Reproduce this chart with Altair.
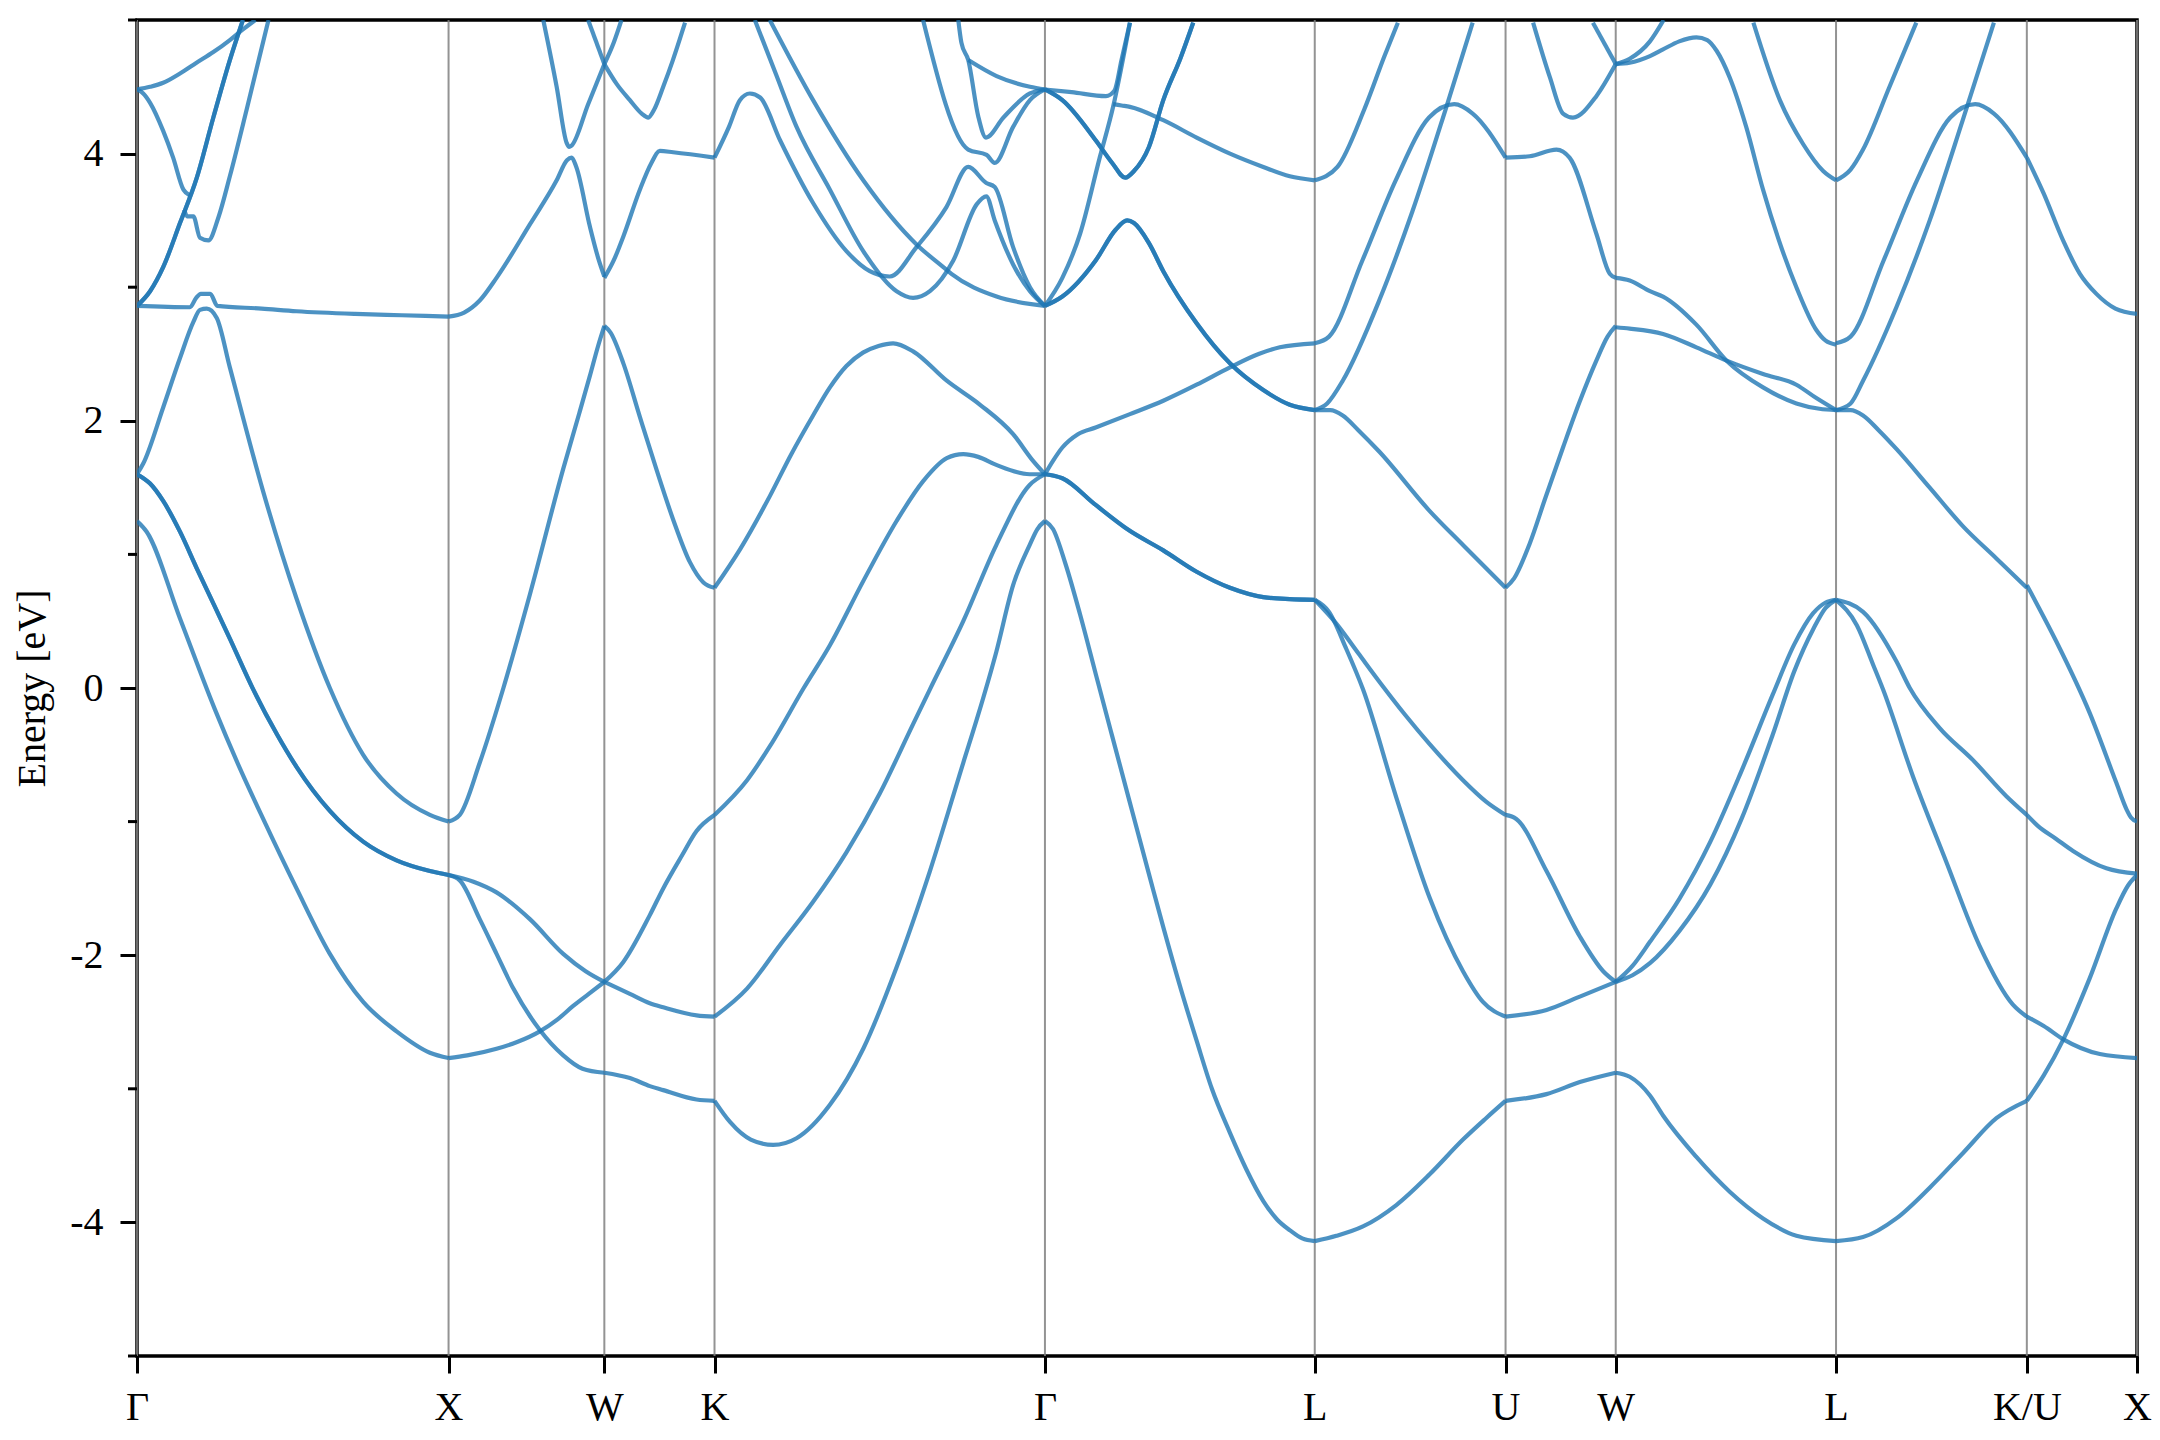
import altair as alt
import pandas as pd

# ---- high-symmetry points along the k-path ----
kpath_pos = [0.0, 1.0, 1.5, 1.8536, 2.9142, 3.7802, 4.3926, 4.7462, 5.4533, 6.0657, 6.4193]
kpath_lab = ["Γ", "X", "W", "K", "Γ", "L", "U", "W", "L", "K/U", "X"]

y_major = [-4, -2, 0, 2, 4]
y_minor = [-5, -3, -1, 1, 3, 5]

# ---- band curves (k, energy in eV) ----
# Γ -> X
s1_a = [(0, 1.25), (0.031, 1.17), (0.138, 0.52), (0.25, -0.16), (0.33, -0.6), (0.405, -0.98), (0.512, -1.50),
        (0.619, -1.99), (0.726, -2.35), (0.833, -2.57), (0.94, -2.73), (1.0, -2.77)]
s1_b = [(0, 1.6), (0.042, 1.53), (0.084, 1.4), (0.138, 1.17), (0.191, 0.9), (0.298, 0.37), (0.373, -0.01),
        (0.45, -0.35), (0.512, -0.59), (0.619, -0.92), (0.726, -1.15), (0.833, -1.29), (0.94, -1.37), (1.0, -1.40)]
s1_c = [(0, 1.6), (0.02, 1.68), (0.084, 2.1), (0.138, 2.47), (0.181, 2.74), (0.202, 2.83), (0.224, 2.84),
        (0.256, 2.77), (0.298, 2.4), (0.405, 1.47), (0.512, 0.67), (0.619, 0.0), (0.726, -0.5), (0.833, -0.79),
        (0.94, -0.95), (1.0, -1.0)]
s1_d = [(0, 2.86), (0.17, 2.85), (0.19, 2.92), (0.205, 2.95), (0.235, 2.95), (0.258, 2.86), (0.4, 2.84),
        (0.512, 2.82), (0.7, 2.8), (0.85, 2.79), (1.0, 2.78)]
s1_e = [(0, 2.86), (0.042, 2.97), (0.084, 3.15), (0.138, 3.48), (0.192, 3.82), (0.245, 4.27), (0.298, 4.7),
        (0.34, 5.0)]
s1_f = [(0, 4.48), (0.02, 4.45), (0.042, 4.38), (0.084, 4.17), (0.116, 3.97), (0.149, 3.73), (0.168, 3.69)]
s1_g = [(0.152, 3.58), (0.161, 3.53), (0.181, 3.53), (0.202, 3.37), (0.229, 3.35), (0.261, 3.52), (0.298, 3.83),
        (0.352, 4.33), (0.422, 5.0)]
s1_h = [(0, 4.48), (0.042, 4.5), (0.084, 4.53), (0.138, 4.6), (0.191, 4.68), (0.245, 4.76), (0.298, 4.85),
        (0.34, 4.93), (0.38, 5.0)]

# X -> W
s2_a = [(1.0, -2.77), (1.06, -2.75), (1.154, -2.70), (1.22, -2.65), (1.293, -2.57), (1.35, -2.48), (1.4, -2.38),
        (1.45, -2.29), (1.5, -2.2)]
s2_b = [(1.0, -1.40), (1.036, -1.44), (1.1, -1.73), (1.154, -1.99), (1.208, -2.25), (1.293, -2.56), (1.368, -2.75),
        (1.43, -2.85), (1.5, -2.88)]
s2_c = [(1.0, -1.40), (1.08, -1.45), (1.154, -1.53), (1.261, -1.73), (1.368, -1.99), (1.44, -2.12), (1.5, -2.2)]
s2_d = [(1.0, -1.0), (1.036, -0.95), (1.1, -0.56), (1.176, 0.0), (1.261, 0.7), (1.368, 1.64), (1.42, 2.06),
        (1.454, 2.34), (1.48, 2.56), (1.5, 2.71)]
s2_e = [(1.0, 2.78), (1.05, 2.81), (1.1, 2.9), (1.154, 3.07), (1.261, 3.47), (1.347, 3.8), (1.38, 3.95),
        (1.395, 3.97), (1.41, 3.9), (1.454, 3.45), (1.48, 3.22), (1.5, 3.08)]
s2_f = [(1.304, 5.0), (1.347, 4.5), (1.379, 4.08), (1.387, 4.05), (1.395, 4.06), (1.448, 4.37), (1.5, 4.67)]
s2_g = [(1.448, 5.0), (1.5, 4.67)]

# W -> K
s3_a = [(1.5, -2.88), (1.582, -2.92), (1.646, -2.98), (1.689, -3.01), (1.796, -3.08), (1.8536, -3.09)]
s3_b = [(1.5, -2.2), (1.582, -2.29), (1.646, -2.36), (1.689, -2.39), (1.796, -2.45), (1.8536, -2.46)]
s3_c = [(1.5, -2.2), (1.561, -2.05), (1.646, -1.7), (1.689, -1.5), (1.75, -1.25), (1.796, -1.07), (1.8536, -0.95)]
s3_d = [(1.5, 2.71), (1.52, 2.66), (1.561, 2.43), (1.614, 2.03), (1.668, 1.63), (1.721, 1.26), (1.775, 0.94),
        (1.818, 0.79), (1.8536, 0.75)]
s3_e = [(1.5, 3.07), (1.53, 3.2), (1.561, 3.38), (1.614, 3.73), (1.651, 3.93), (1.678, 4.02), (1.721, 4.01),
        (1.8536, 3.97)]
s3_f = [(1.5, 4.67), (1.54, 4.52), (1.582, 4.40), (1.62, 4.3), (1.641, 4.27), (1.66, 4.33), (1.689, 4.5),
        (1.72, 4.7), (1.759, 4.98)]
s3_g = [(1.5, 4.67), (1.53, 4.83), (1.555, 5.0)]

# K -> Γ
s4_a = [(1.8536, -3.09), (1.904, -3.25), (1.97, -3.38), (2.042, -3.42), (2.117, -3.37), (2.224, -3.12),
        (2.331, -2.7), (2.438, -2.09), (2.545, -1.37), (2.652, -0.56), (2.70, -0.2), (2.758, 0.27), (2.812, 0.77),
        (2.865, 1.07), (2.89, 1.19), (2.9142, 1.25)]
s4_b = [(1.8536, -2.46), (1.958, -2.25), (2.065, -1.92), (2.17, -1.6), (2.277, -1.23), (2.384, -0.79),
        (2.491, -0.27), (2.545, -0.01), (2.652, 0.5), (2.758, 1.07), (2.865, 1.52), (2.9142, 1.6)]
s4_c = [(1.8536, -0.95), (1.958, -0.69), (2.033, -0.43), (2.14, 0.0), (2.224, 0.32), (2.331, 0.8), (2.438, 1.25),
        (2.524, 1.55), (2.599, 1.72), (2.652, 1.75), (2.70, 1.73), (2.758, 1.67), (2.865, 1.6), (2.9142, 1.6)]
s4_d = [(1.8536, 0.75), (1.936, 1.04), (2.032, 1.44), (2.1, 1.75), (2.17, 2.04), (2.224, 2.25), (2.277, 2.41),
        (2.33, 2.51), (2.38, 2.56), (2.427, 2.58), (2.491, 2.52), (2.599, 2.3), (2.706, 2.12), (2.812, 1.9),
        (2.876, 1.7), (2.9142, 1.6)]
s4_e = [(1.8536, 3.97), (1.90, 4.2), (1.935, 4.4), (1.967, 4.45), (2.0, 4.42), (2.064, 4.1), (2.17, 3.63),
        (2.277, 3.27), (2.352, 3.12), (2.416, 3.08), (2.502, 3.3), (2.598, 3.6), (2.668, 3.9), (2.726, 3.78),
        (2.753, 3.75), (2.812, 3.3), (2.866, 3.0), (2.9142, 2.86)]
s4_f = [(1.983, 5.0), (2.05, 4.6), (2.117, 4.2), (2.224, 3.73), (2.331, 3.27), (2.438, 2.97), (2.491, 2.92),
        (2.545, 2.97), (2.62, 3.2), (2.695, 3.62), (2.726, 3.68), (2.753, 3.5), (2.812, 3.17), (2.866, 2.97),
        (2.9142, 2.86)]
s4_g = [(2.031, 5.0), (2.17, 4.4), (2.331, 3.8), (2.502, 3.32), (2.588, 3.15), (2.614, 3.1), (2.759, 2.93),
        (2.9142, 2.86)]
s4_h = [(2.523, 5.0), (2.668, 4.03), (2.727, 3.99), (2.753, 3.93), (2.812, 4.2), (2.866, 4.4), (2.9142, 4.48)]
s4_i = [(2.636, 5.0), (2.646, 4.83), (2.668, 4.7), (2.70, 4.28), (2.725, 4.12), (2.781, 4.27), (2.866, 4.45),
        (2.9142, 4.48)]
s4_j = [(2.668, 4.7), (2.759, 4.58), (2.866, 4.5), (2.9142, 4.48)]

# Γ -> L
s5_a = [(2.9142, 1.25), (2.94, 1.19), (2.98, 0.93), (3.027, 0.55), (3.08, 0.08), (3.13, -0.36), (3.187, -0.86),
        (3.25, -1.41), (3.294, -1.79), (3.35, -2.25), (3.401, -2.64), (3.45, -3.0), (3.508, -3.33), (3.56, -3.6),
        (3.615, -3.84), (3.66, -3.98), (3.701, -4.06), (3.74, -4.12), (3.7802, -4.14)]
s5_b = [(2.9142, 1.6), (2.97, 1.57), (3.077, 1.37), (3.184, 1.18), (3.294, 1.03), (3.401, 0.87), (3.508, 0.75),
        (3.615, 0.68), (3.7, 0.665), (3.7802, 0.66)]
s5_c = [(2.9142, 1.6), (2.94, 1.7), (2.97, 1.8), (3.02, 1.9), (3.077, 1.95), (3.187, 2.05), (3.294, 2.15),
        (3.401, 2.27), (3.508, 2.4), (3.6, 2.5), (3.668, 2.55), (3.7802, 2.58)]
s5_d = [(2.9142, 2.86), (2.97, 2.93), (3.077, 3.2), (3.141, 3.43), (3.178, 3.5), (3.2, 3.48), (3.248, 3.33),
        (3.294, 3.12), (3.401, 2.73), (3.508, 2.43), (3.615, 2.23), (3.7, 2.12), (3.7802, 2.08)]
s5_e = [(2.9142, 2.86), (2.97, 3.07), (3.027, 3.4), (3.09, 3.97), (3.133, 4.35), (3.187, 4.98)]
s5_f = [(2.9142, 4.48), (2.97, 4.4), (3.077, 4.1), (3.13, 3.93), (3.172, 3.82), (3.2, 3.87), (3.248, 4.05),
        (3.294, 4.4), (3.35, 4.72), (3.39, 4.98)]
s5_g = [(2.9142, 4.48), (3.0, 4.46), (3.11, 4.43), (3.137, 4.47), (3.16, 4.7), (3.187, 4.98)]
s5_h = [(3.133, 4.37), (3.16, 4.36), (3.187, 4.35), (3.294, 4.25), (3.401, 4.12), (3.508, 4.0), (3.615, 3.9),
        (3.7, 3.83), (3.7802, 3.8)]

# L -> U
s6_a = [(3.7802, -4.14), (3.85, -4.1), (3.935, -4.03), (4.042, -3.87), (4.149, -3.64), (4.256, -3.38),
        (4.33, -3.22), (4.3926, -3.09)]
s6_b = [(3.7802, 0.66), (3.826, 0.57), (3.88, 0.3), (3.935, -0.01), (4.042, -0.82), (4.149, -1.57),
        (4.256, -2.12), (4.32, -2.35), (4.3926, -2.46)]
s6_c = [(3.7802, 0.66), (3.85, 0.48), (3.92, 0.26), (3.99, 0.04), (4.07, -0.2), (4.149, -0.42), (4.256, -0.69),
        (4.33, -0.85), (4.3926, -0.95)]
s6_d = [(3.7802, 2.08), (3.83, 2.08), (3.87, 2.04), (3.92, 1.93), (3.987, 1.77), (4.147, 1.33), (4.256, 1.07),
        (4.3926, 0.75)]
s6_e = [(3.7802, 2.08), (3.82, 2.13), (3.87, 2.3), (3.987, 2.9), (4.094, 3.57), (4.2, 4.33), (4.287, 4.98)]
s6_f = [(3.7802, 2.58), (3.826, 2.63), (3.933, 3.2), (4.04, 3.8), (4.147, 4.27), (4.228, 4.37), (4.287, 4.3),
        (4.3926, 3.97)]
s6_g = [(3.7802, 3.8), (3.853, 3.9), (3.939, 4.33), (4.004, 4.73), (4.047, 4.98)]

# U -> W
s7_a = [(4.3926, -3.09), (4.524, -3.04), (4.631, -2.95), (4.7462, -2.88)]
s7_b = [(4.3926, -2.46), (4.524, -2.41), (4.631, -2.31), (4.7462, -2.2)]
s7_c = [(4.3926, -0.95), (4.427, -0.98), (4.524, -1.37), (4.631, -1.86), (4.706, -2.12), (4.7462, -2.2)]
s7_d = [(4.3926, 0.75), (4.42, 0.82), (4.47, 1.08), (4.52, 1.42), (4.577, 1.8), (4.63, 2.14), (4.684, 2.45),
        (4.72, 2.63), (4.7462, 2.71)]
s7_e = [(4.3926, 3.97), (4.47, 3.98), (4.556, 4.03), (4.598, 3.97), (4.684, 3.4), (4.727, 3.1), (4.7462, 3.07)]
s7_f = [(4.481, 4.98), (4.535, 4.57), (4.577, 4.3), (4.609, 4.27), (4.684, 4.43), (4.7462, 4.67)]
s7_g = [(4.673, 4.98), (4.7462, 4.67)]

# W -> L
s8_a = [(4.7462, -2.88), (4.791, -2.91), (4.856, -3.05), (4.898, -3.2), (5.005, -3.51), (5.112, -3.77),
        (5.219, -3.97), (5.326, -4.1), (5.4533, -4.14)]
s8_b = [(4.7462, -2.2), (4.80, -2.08), (4.856, -1.9), (4.95, -1.58), (5.05, -1.15), (5.15, -0.62), (5.25, -0.05),
        (5.32, 0.33), (5.38, 0.56), (5.42, 0.64), (5.4533, 0.66)]
s8_c = [(4.7462, -2.2), (4.80, -2.15), (4.856, -2.06), (4.95, -1.82), (5.05, -1.47), (5.15, -0.98), (5.25, -0.35),
        (5.32, 0.13), (5.38, 0.44), (5.42, 0.6), (5.4533, 0.66)]
s8_d = [(4.7462, 2.7), (4.791, 2.69), (4.898, 2.65), (5.005, 2.55), (5.102, 2.45), (5.219, 2.35), (5.326, 2.27),
        (5.39, 2.17), (5.4533, 2.08)]
s8_e = [(4.7462, 3.07), (4.791, 3.05), (4.856, 2.97), (4.898, 2.93), (5.005, 2.72), (5.102, 2.45), (5.219, 2.25),
        (5.326, 2.13), (5.40, 2.09), (5.4533, 2.08)]
s8_f = [(4.7462, 4.67), (4.791, 4.68), (4.856, 4.73), (4.898, 4.78), (4.95, 4.84), (5.005, 4.87), (5.04, 4.85),
        (5.07, 4.77), (5.112, 4.57), (5.165, 4.2), (5.219, 3.73), (5.27, 3.35), (5.326, 3.0), (5.39, 2.68),
        (5.42, 2.6), (5.4533, 2.57)]
s8_g = [(4.7462, 4.67), (4.791, 4.71), (4.856, 4.84), (4.9, 5.0)]
s8_h = [(5.188, 4.98), (5.273, 4.4), (5.348, 4.07), (5.412, 3.87), (5.4533, 3.8)]

# L -> K/U
s9_a = [(5.4533, -4.14), (5.54, -4.11), (5.647, -3.97), (5.754, -3.74), (5.861, -3.48), (5.968, -3.22),
        (6.0657, -3.09)]
s9_b = [(5.4533, 0.66), (5.52, 0.47), (5.573, 0.17), (5.604, -0.01), (5.7, -0.66), (5.807, -1.3),
        (5.914, -1.93), (6.021, -2.37), (6.0657, -2.46)]
s9_c = [(5.4533, 0.66), (5.54, 0.57), (5.647, 0.2), (5.69, 0.0), (5.786, -0.3), (5.893, -0.54), (6.0, -0.81),
        (6.0657, -0.95)]
s9_d = [(5.4533, 2.08), (5.50, 2.08), (5.54, 2.04), (5.59, 1.93), (5.647, 1.79), (5.754, 1.5), (5.861, 1.21),
        (5.968, 0.97), (6.0657, 0.75)]
s9_e = [(5.4533, 2.08), (5.50, 2.13), (5.54, 2.3), (5.647, 2.85), (5.754, 3.5), (5.86, 4.25), (5.96, 4.98)]
s9_f = [(5.4533, 2.58), (5.50, 2.63), (5.606, 3.2), (5.713, 3.8), (5.82, 4.27), (5.90, 4.37), (5.96, 4.3),
        (6.0657, 3.97)]
s9_g = [(5.4533, 3.8), (5.50, 3.88), (5.54, 4.03), (5.625, 4.5), (5.711, 4.98)]

# K/U -> X
s10_a = [(6.0657, 0.77), (6.10, 0.62), (6.16, 0.35), (6.268, -0.19), (6.353, -0.71), (6.386, -0.91),
         (6.40, -0.97), (6.4193, -1.0)]
s10_b = [(6.0657, -0.95), (6.10, -1.03), (6.16, -1.13), (6.214, -1.22), (6.321, -1.35), (6.4193, -1.39)]
s10_c = [(6.0657, -2.46), (6.12, -2.53), (6.183, -2.63), (6.3, -2.74), (6.4193, -2.77)]
s10_d = [(6.0657, -3.09), (6.12, -2.9), (6.183, -2.63), (6.268, -2.17), (6.353, -1.65), (6.39, -1.48),
         (6.4193, -1.4)]
s10_e = [(6.0657, 3.97), (6.12, 3.7), (6.182, 3.35), (6.236, 3.1), (6.289, 2.95), (6.35, 2.84), (6.4193, 2.8)]

curves = {
    "s1_a": s1_a, "s1_b": s1_b, "s1_c": s1_c, "s1_d": s1_d, "s1_e": s1_e, "s1_f": s1_f, "s1_g": s1_g, "s1_h": s1_h,
    "s2_a": s2_a, "s2_b": s2_b, "s2_c": s2_c, "s2_d": s2_d, "s2_e": s2_e, "s2_f": s2_f, "s2_g": s2_g,
    "s3_a": s3_a, "s3_b": s3_b, "s3_c": s3_c, "s3_d": s3_d, "s3_e": s3_e, "s3_f": s3_f, "s3_g": s3_g,
    "s4_a": s4_a, "s4_b": s4_b, "s4_c": s4_c, "s4_d": s4_d, "s4_e": s4_e, "s4_f": s4_f, "s4_g": s4_g,
    "s4_h": s4_h, "s4_i": s4_i, "s4_j": s4_j,
    "s5_a": s5_a, "s5_b": s5_b, "s5_c": s5_c, "s5_d": s5_d, "s5_e": s5_e, "s5_f": s5_f, "s5_g": s5_g, "s5_h": s5_h,
    "s6_a": s6_a, "s6_b": s6_b, "s6_c": s6_c, "s6_d": s6_d, "s6_e": s6_e, "s6_f": s6_f, "s6_g": s6_g,
    "s7_a": s7_a, "s7_b": s7_b, "s7_c": s7_c, "s7_d": s7_d, "s7_e": s7_e, "s7_f": s7_f, "s7_g": s7_g,
    "s8_a": s8_a, "s8_b": s8_b, "s8_c": s8_c, "s8_d": s8_d, "s8_e": s8_e, "s8_f": s8_f, "s8_g": s8_g, "s8_h": s8_h,
    "s9_a": s9_a, "s9_b": s9_b, "s9_c": s9_c, "s9_d": s9_d, "s9_e": s9_e, "s9_f": s9_f, "s9_g": s9_g,
    "s10_a": s10_a, "s10_b": s10_b, "s10_c": s10_c, "s10_d": s10_d, "s10_e": s10_e,
}
# doubly degenerate bands (drawn twice, as in the original)
degenerate = ["s1_b", "s1_e", "s5_b", "s5_d", "s5_f"]

rows = []
for name, pts in curves.items():
    copies = 2 if name in degenerate else 1
    for c in range(copies):
        for i, (k, e) in enumerate(pts):
            rows.append({"curve": f"{name}_{c}", "k": k, "e": e, "order": i})
bands = pd.DataFrame(rows)
kp = pd.DataFrame({"k": kpath_pos, "lab": kpath_lab})
minor = pd.DataFrame({"v": y_minor})

FONT = "Liberation Serif"
xmax = kpath_pos[-1]
xscale = alt.Scale(domain=[0, xmax], nice=False, zero=False)
yscale = alt.Scale(domain=[-5, 5], nice=False, zero=False)

label_expr = ""
for p, l in zip(kpath_pos, kpath_lab):
    label_expr += f"abs(datum.value - {p}) < 0.01 ? '{l}' : "
label_expr += "''"

xaxis = alt.Axis(values=kpath_pos, labelExpr=label_expr, title=None, grid=False, domain=False,
                 tickSize=17, tickWidth=3, tickColor="black", labelFont=FONT, labelFontSize=40,
                 labelColor="black", labelPadding=14, labelFlush=False, labelOverlap=False)
yaxis = alt.Axis(values=y_major, title="Energy [eV]", grid=False, domain=False,
                 tickSize=17, tickWidth=3, tickColor="black", labelFont=FONT, labelFontSize=40,
                 labelColor="black", labelPadding=17,
                 labelExpr="datum.value < 0 ? '-' + toString(abs(datum.value)) : toString(datum.value)",
                 titleFont=FONT, titleFontSize=40, titleFontWeight="normal", titleColor="black",
                 titlePadding=17)

vlines = alt.Chart(kp).mark_rule(color="#808080", strokeWidth=2, opacity=0.85).encode(
    x=alt.X("k:Q", scale=xscale, axis=xaxis),
)

lines = alt.Chart(bands).mark_line(color="#1f77b4", opacity=0.8, strokeWidth=4.2,
                                    interpolate="monotone", clip=True).encode(
    x=alt.X("k:Q", scale=xscale, axis=xaxis),
    y=alt.Y("e:Q", scale=yscale, axis=yaxis),
    detail="curve:N",
    order="order:Q",
)

minor_ticks = alt.Chart(minor).mark_rule(color="black", strokeWidth=3, clip=False).encode(
    x=alt.value(-9), x2=alt.value(0),
    y=alt.Y("v:Q", scale=yscale, axis=yaxis),
)

chart = alt.layer(vlines, lines, minor_ticks).properties(
    width=2000, height=1336,
    autosize=alt.AutoSizeParams(type="none"),
    padding={"left": 129, "top": 12, "right": 15, "bottom": 76},
).configure_view(stroke="black", strokeWidth=3.5)

chart.save("out.html", embed_options={"renderer": "svg", "actions": False})
